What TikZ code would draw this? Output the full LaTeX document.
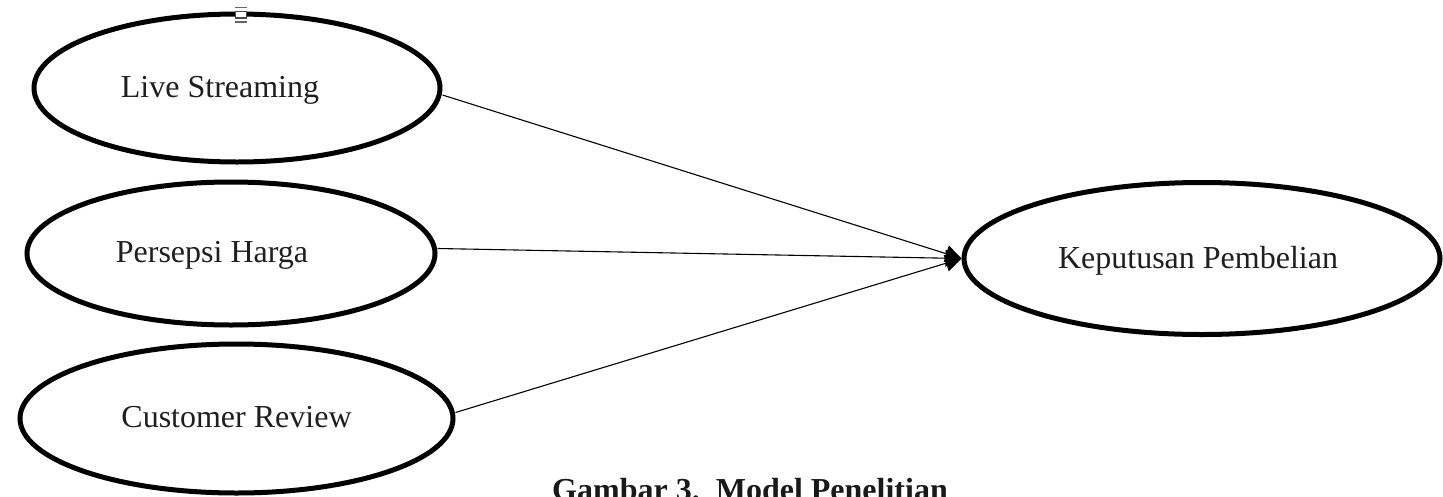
\documentclass[tikz,border=0pt]{standalone}
\usepackage{fontspec}
\setmainfont{Liberation Serif}
\usetikzlibrary{shapes.geometric,arrows.meta}
\begin{document}
\begin{tikzpicture}[x=1pt,y=-1pt,
  var/.style={ellipse,draw=black,line width=5pt,fill=white,inner sep=0pt,
    font=\fontsize{32}{38}\selectfont,text=black!88,text depth=3pt},
  link/.style={line width=1.1pt,-{Triangle[length=16pt,width=17pt]}}]
\useasboundingbox (0,0) rectangle (1443,496);
\clip (0,0) rectangle (1443,496);
\fill[white] (0,0) rectangle (1443,496);
\node[var,minimum width=406pt,minimum height=148pt] (ls) at (237,88) {Live Streaming\hspace*{34pt}};
\node[var,minimum width=408pt,minimum height=143pt] (ps) at (231,253.5) {Persepsi Harga\hspace*{38pt}};
\node[var,minimum width=433pt,minimum height=149pt] (cr) at (236.5,418.5) {Customer Review};
\node[var,minimum width=476pt,minimum height=152pt] (kp) at (1202,258.5) {Keputusan Pembelian\hspace*{8pt}};
\draw[link] ([yshift=-7pt]ls.east) -- (kp.west);
\draw[link] ([yshift=5pt]ps.east) -- (kp.west);
\draw[link] ([yshift=6pt]cr.east) -- (kp.west);
% small handle mark on top of first ellipse
\fill[white] (235,5) rectangle (247,24);
\draw[line width=1.4pt,black!60] (235,7.5) -- (247,7.5) (235,22) -- (247,22);
\draw[line width=1.2pt,black!70] (235.5,11.5) rectangle (246.5,18);
\node[font=\fontsize{32}{38}\selectfont\bfseries,anchor=base,text=black!90] (cap) at (750,500) {Gambar 3.\ \ Model Penelitian};
\end{tikzpicture}
\end{document}
